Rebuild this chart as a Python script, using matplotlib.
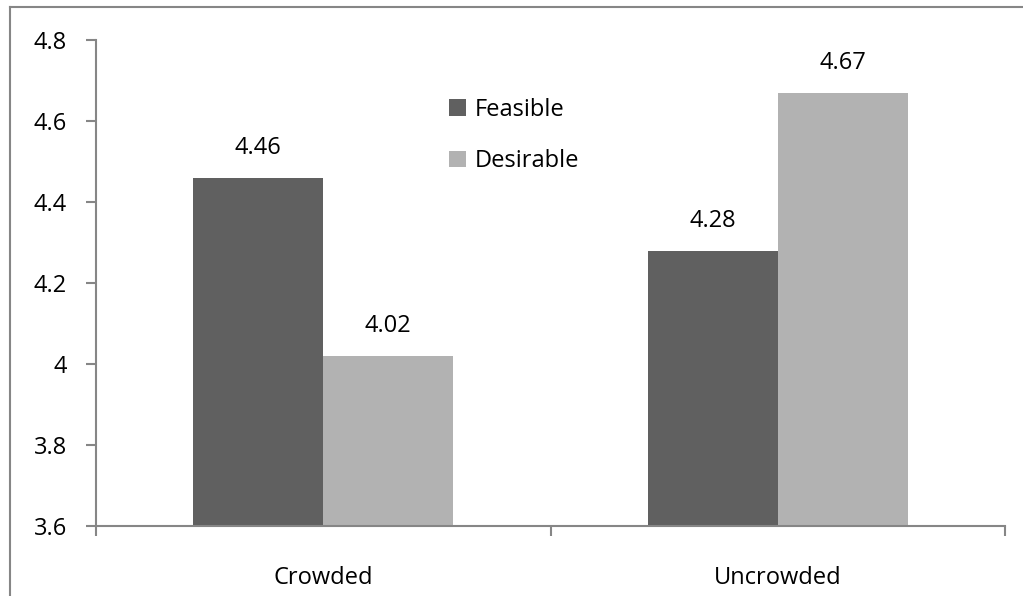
import numpy as np
import matplotlib.pyplot as plt
from matplotlib.lines import Line2D

plt.rcParams['font.family'] = ['Open Sans', 'DejaVu Sans']

categories = ['Crowded', 'Uncrowded']
feasible = [4.46, 4.28]
desirable = [4.02, 4.67]
yticks = [3.6, 3.8, 4.0, 4.2, 4.4, 4.6, 4.8]
ytick_labels = ['3.6', '3.8', '4', '4.2', '4.4', '4.6', '4.8']

dark = '#606060'
light = '#b2b2b2'
axis_gray = '#868686'
fs = 17

fig = plt.figure(figsize=(10.23, 5.96), dpi=100)
ax = fig.add_axes([96 / 1023, 70 / 596, 909 / 1023, 486 / 596])

x = np.arange(len(categories))
w = 0.286
b1 = ax.bar(x - w / 2, feasible, w, color=dark, label='Feasible')
b2 = ax.bar(x + w / 2, desirable, w, color=light, label='Desirable')

for bars, vals in ((b1, feasible), (b2, desirable)):
    for rect, v in zip(bars, vals):
        ax.annotate(f'{v:.2f}', (rect.get_x() + rect.get_width() / 2, v),
                    xytext=(0, 13), textcoords='offset points',
                    ha='center', va='bottom', fontsize=fs)

ax.set_xlim(-0.5, 1.5)
ax.set_ylim(3.6, 4.8)
ax.set_yticks(yticks)
ax.set_yticklabels(ytick_labels)
ax.set_xticks(x)
ax.set_xticklabels(categories)
ax.set_xticks([-0.5, 0.5, 1.5], minor=True)

for s in ('top', 'right'):
    ax.spines[s].set_visible(False)
for s in ('left', 'bottom'):
    ax.spines[s].set_color(axis_gray)
    ax.spines[s].set_linewidth(1.5)

ax.tick_params(axis='y', length=7, width=1.5, color=axis_gray, pad=14, labelsize=fs)
ax.tick_params(axis='x', which='major', length=0, pad=29, labelsize=fs)
ax.tick_params(axis='x', which='minor', length=7, width=1.5, color=axis_gray)

ax.legend(loc='upper left', bbox_to_anchor=(449 / 1023, 1 - 98 / 596),
          bbox_transform=fig.transFigure, frameon=False, fontsize=fs,
          handlelength=0.7, handleheight=0.7, handletextpad=0.4,
          labelspacing=1.15, borderpad=0, borderaxespad=0)

# frame lines on the left and top of the figure
fig.add_artist(Line2D([10 / 1023, 10 / 1023], [0, 1 - 7 / 596],
                      transform=fig.transFigure, color=axis_gray, lw=1.5))
fig.add_artist(Line2D([10 / 1023, 1], [1 - 7 / 596, 1 - 7 / 596],
                      transform=fig.transFigure, color=axis_gray, lw=1.5))

fig.savefig('out.png', dpi=100)
